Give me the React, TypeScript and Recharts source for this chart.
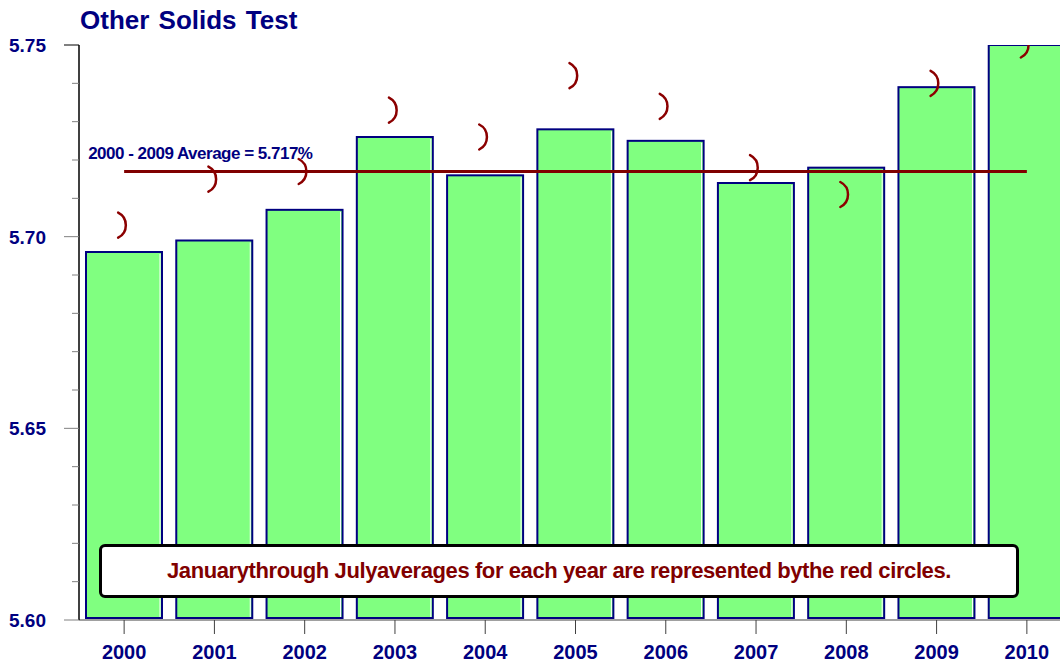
import { ComposedChart, Bar, Scatter, XAxis, YAxis, ReferenceLine } from 'recharts';

// values
const years = ['2000', '2001', '2002', '2003', '2004', '2005', '2006', '2007', '2008', '2009', '2010'];
const yearAverages = [5.696, 5.699, 5.707, 5.726, 5.716, 5.728, 5.725, 5.714, 5.718, 5.739, 5.75];
const janJulAverages = [5.703, 5.715, 5.717, 5.733, 5.726, 5.742, 5.734, 5.718, 5.711, 5.74, 5.75];
const yTicks = [5.6, 5.61, 5.62, 5.63, 5.64, 5.65, 5.66, 5.67, 5.68, 5.69, 5.7, 5.71, 5.72, 5.73, 5.74, 5.75];
const longAverage = 5.717;
const averageLabel = '2000 - 2009 Average = 5.717%';
const note = 'Januarythrough Julyaverages for each year are represented bythe red circles.';

const data = years.map((year, i) => ({ year, avg: yearAverages[i], jan: janJulAverages[i] }));

const NAVY = '#000080';
const DARK_RED = '#800000';
const FONT = '"Liberation Sans", Arial, sans-serif';

function YTick(props: any) {
  const { x, y, payload } = props;
  const major = Math.round(payload.value * 100) % 5 === 0;
  const top = Math.abs(payload.value - 5.75) < 1e-6;
  return (
    <g>
      <line x1={major ? x - 15 : x - 7} x2={x} y1={y} y2={y} stroke={top ? '#000' : '#808080'} strokeWidth={1} />
      {major && (
        <text x={x - 33} y={y} dy="0.36em" textAnchor="end" fill={NAVY} fontSize={19} fontWeight="bold" fontFamily={FONT}>
          {payload.value.toFixed(2)}
        </text>
      )}
    </g>
  );
}

function XTick(props: any) {
  const { x, y, payload } = props;
  return (
    <g>
      <line x1={x} x2={x} y1={y} y2={y + 14} stroke="#404040" strokeWidth={1} />
      <text x={x} y={y + 39} textAnchor="middle" fill={NAVY} fontSize={20} fontWeight="bold" fontFamily={FONT}>
        {payload.value}
      </text>
    </g>
  );
}

function BarShape(props: any) {
  const { x, y, width, height } = props;
  return (
    <g>
      <rect x={x} y={y} width={width} height={height - 2} fill="#80FF80" stroke={NAVY} strokeWidth={2} />
      <line x1={x + width - 2} x2={x + width - 2} y1={y + 2} y2={y + height - 3} stroke="#fff" strokeWidth={1} />
    </g>
  );
}

function ArcMarker(props: any) {
  const { cx, cy } = props;
  if (cx == null || cy == null) return null;
  return (
    <path
      d={`M ${cx - 6} ${cy - 12.5} A 14 14 0 0 1 ${cx - 6} ${cy + 12.5}`}
      fill="none"
      stroke="#8B0000"
      strokeWidth={2.5}
      strokeLinecap="round"
    />
  );
}

function AvgLabel(props: any) {
  const { viewBox } = props;
  if (!viewBox) return null;
  return (
    <text x={viewBox.x - 36} y={viewBox.y - 13} fill={NAVY} fontSize={17} fontWeight="bold" fontFamily={FONT} letterSpacing={-0.5}>
      {averageLabel}
    </text>
  );
}

export default function App() {
  return (
    <div style={{ position: 'absolute', left: 0, top: 0, width: 1060, height: 664, overflow: 'hidden', background: '#fff', fontFamily: FONT }}>
      <div style={{ position: 'absolute', left: 80, top: 5, color: NAVY, fontSize: 26, fontWeight: 'bold', whiteSpace: 'nowrap', wordSpacing: 2 }}>
        Other Solids Test
      </div>
      <ComposedChart width={1080} height={664} data={data} margin={{ top: 45, right: 8, bottom: 0, left: 0 }} barCategoryGap={7}>
        <XAxis
          dataKey="year"
          interval={0}
          tickSize={0}
          tickMargin={0}
          tick={<XTick />}
          axisLine={{ stroke: '#808080', strokeWidth: 1.5 }}
          height={44}
        />
        <YAxis
          type="number"
          domain={[5.6, 5.75]}
          ticks={yTicks}
          interval={0}
          allowDataOverflow
          width={79}
          tickSize={0}
          tickMargin={0}
          tick={<YTick />}
          axisLine={{ stroke: '#000', strokeWidth: 1.5 }}
        />
        <Bar dataKey="avg" shape={<BarShape />} isAnimationActive={false} />
        <ReferenceLine
          segment={[{ x: years[0], y: longAverage }, { x: years[years.length - 1], y: longAverage }]}
          stroke={DARK_RED}
          strokeWidth={3}
          label={<AvgLabel />}
        />
        <Scatter dataKey="jan" shape={<ArcMarker />} isAnimationActive={false} />
      </ComposedChart>
      <div
        style={{
          position: 'absolute',
          left: 99,
          top: 544,
          width: 914,
          height: 48,
          border: '3px solid #000',
          borderRadius: 6,
          background: '#fff',
          display: 'flex',
          alignItems: 'center',
          justifyContent: 'center',
          color: DARK_RED,
          fontSize: 22,
          fontWeight: 'bold',
          letterSpacing: -0.4,
          whiteSpace: 'nowrap',
        }}
      >
        {note}
      </div>
    </div>
  );
}
